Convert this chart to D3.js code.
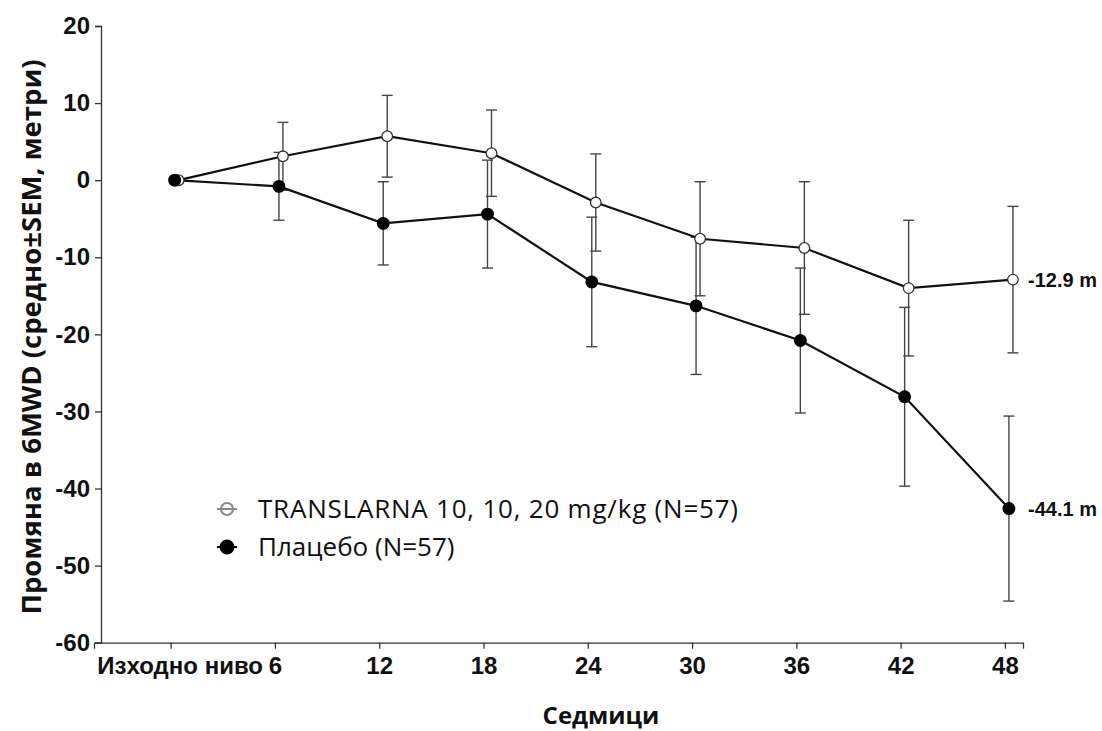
<!DOCTYPE html>
<html>
<head>
<meta charset="utf-8">
<script src="https://cdn.jsdelivr.net/npm/d3@7"></script>
<style>
  body { margin: 0; background: #fff; }
  svg { display: block; }
</style>
</head>
<body>
<div id="chart-area"></div>
<script>
// weeks and tick labels
var weeks = [0, 6, 12, 18, 24, 30, 36, 42, 48];
var tickLabels = ["Изходно ниво", "6", "12", "18", "24", "30", "36", "42", "48"];
var yTicks = [20, 10, 0, -10, -20, -30, -40, -50, -60];

// TRANSLARNA 10, 10, 20 mg/kg (open circles)
var translarnaMean = [0, 3.1, 5.7, 3.5, -2.9, -7.6, -8.8, -14.0, -12.9];
var translarnaSem  = [0, 4.4, 5.3, 5.6, 6.3, 7.4, 8.6, 8.8, 9.5];

// Placebo (filled circles)
var placeboMean = [0, -0.8, -5.6, -4.4, -13.2, -16.3, -20.8, -28.1, -42.6];
var placeboSem  = [0, 4.4, 5.4, 7.0, 8.4, 8.9, 9.4, 11.6, 12.0];

var endLabels = ["-12.9 m", "-44.1 m"];
var legendLabels = ["TRANSLARNA 10, 10, 20 mg/kg (N=57)", "Плацебо (N=57)"];

var width = 1102;
var height = 731;

var svg = d3.select("#chart-area").append("svg")
    .attr("width", width)
    .attr("height", height);

var x = d3.scaleLinear()
    .domain([-4.41, 49.04])
    .range([94, 1023]);

var y = d3.scaleLinear()
    .domain([-60, 20])
    .range([642.7, 26]);

// x axis
var bottomAxis = d3.axisBottom(x)
    .tickValues(weeks)
    .tickSizeOuter(0)
    .tickSize(6)
    .tickPadding(8)
    .tickFormat((d, i) => tickLabels[i]);
var gx = svg.append("g")
    .attr("class", "bottom axis")
    .attr("transform", "translate(0," + y(-60) + ")")
    .call(bottomAxis);
gx.selectAll("text")
    .attr("font-family", "'Liberation Sans', Arial, sans-serif")
    .attr("font-weight", "bold")
    .attr("font-size", "24px")
    .attr("fill", "#111")
    .attr("dx", (d, i) => i === 0 ? 9 : 0);

// y axis
var leftAxis = d3.axisLeft(y)
    .tickValues(yTicks)
    .tickSizeOuter(0)
    .tickSize(6)
    .tickPadding(5)
    .tickFormat((d) => String(d));
var gy = svg.append("g")
    .attr("class", "left axis")
    .attr("transform", "translate(" + 101 + ",0)")
    .call(leftAxis);
gy.selectAll("text")
    .attr("font-family", "'Liberation Sans', Arial, sans-serif")
    .attr("font-weight", "bold")
    .attr("font-size", "24px")
    .attr("fill", "#111");

svg.selectAll(".axis path, .axis line")
    .attr("stroke", "#333")
    .attr("stroke-width", 1.3);

// axis labels
svg.append("text")
    .attr("x", 601)
    .attr("y", 724)
    .attr("text-anchor", "middle")
    .attr("font-family", "'Open Sans', sans-serif")
    .attr("font-weight", "bold")
    .attr("font-size", "24px")
    .attr("fill", "#111")
    .text("Седмици");

svg.append("text")
    .attr("transform", "translate(41," + 337 + ") rotate(-90)")
    .attr("text-anchor", "middle")
    .attr("font-family", "'Open Sans', sans-serif")
    .attr("font-weight", "bold")
    .attr("font-size", "27px")
    .attr("textLength", 555)
    .attr("lengthAdjust", "spacingAndGlyphs")
    .attr("fill", "#111")
    .text("Промяна в 6MWD (средно±SEM, метри)");

// series table
var series = [
    { name: "translarna", mean: translarnaMean, sem: translarnaSem, dx: 8, open: true },
    { name: "placebo", mean: placeboMean, sem: placeboSem, dx: 4, open: false }
];

var g = svg.append("g");

series.forEach((s) => {
    var pts = weeks.map((w, i) => ({ w: w, m: s.mean[i], e: s.sem[i] }));
    var bars = g.append("g").attr("class", "err " + s.name);
    pts.filter((d) => d.e > 0).forEach((d) => {
        var cx = x(d.w) + s.dx;
        bars.append("line")
            .attr("x1", cx).attr("x2", cx)
            .attr("y1", y(d.m + d.e)).attr("y2", y(d.m - d.e));
        [d.m + d.e, d.m - d.e].forEach((v) => {
            bars.append("line")
                .attr("x1", cx - 5.5).attr("x2", cx + 5.5)
                .attr("y1", y(v)).attr("y2", y(v));
        });
    });
    bars.selectAll("line")
        .attr("stroke", "#444")
        .attr("stroke-width", 1.4);
});

series.forEach((s) => {
    var pts = weeks.map((w, i) => ({ w: w, m: s.mean[i] }));
    var line = d3.line()
        .x((d) => x(d.w) + s.dx)
        .y((d) => y(d.m));
    g.append("path")
        .datum(pts)
        .attr("d", line)
        .attr("fill", "none")
        .attr("stroke", "#111")
        .attr("stroke-width", 2.2);
});

// markers: open circles first, filled placebo circles on top
series.forEach((s) => {
    var pts = weeks.map((w, i) => ({ w: w, m: s.mean[i] }));
    g.selectAll("circle." + s.name)
        .data(pts)
        .enter()
        .append("circle")
        .attr("class", s.name)
        .attr("cx", (d) => x(d.w) + s.dx)
        .attr("cy", (d) => y(d.m))
        .attr("r", s.open ? 5.3 : 5.8)
        .attr("fill", s.open ? "#fff" : "#000")
        .attr("stroke", s.open ? "#333" : "#000")
        .attr("stroke-width", 1.3);
});

// end labels
series.forEach((s, i) => {
    var last = s.mean.length - 1;
    svg.append("text")
        .attr("x", 1028)
        .attr("y", y(s.mean[last]))
        .attr("dy", "0.36em")
        .attr("font-family", "'Liberation Sans', Arial, sans-serif")
        .attr("font-weight", "bold")
        .attr("font-size", "20px")
        .attr("fill", "#111")
        .text(endLabels[i]);
});

// legend
var legend = svg.append("g").attr("class", "legend");
var legendY = [509, 547];
var legendWidths = [480, null];
series.forEach((s, i) => {
    var ly = legendY[i];
    legend.append("line")
        .attr("x1", 217).attr("x2", 237)
        .attr("y1", ly).attr("y2", ly)
        .attr("stroke", s.open ? "#888" : "#000")
        .attr("stroke-width", 2);
    legend.append("circle")
        .attr("cx", 227).attr("cy", ly)
        .attr("r", s.open ? 6 : 6.5)
        .attr("fill", s.open ? "none" : "#000")
        .attr("stroke", s.open ? "#888" : "#000")
        .attr("stroke-width", 2);
    var t = legend.append("text")
        .attr("x", 258)
        .attr("y", ly)
        .attr("dy", "0.36em")
        .attr("font-family", "'Open Sans', sans-serif")
        .attr("font-size", "26px")
        .attr("fill", "#111")
        .text(legendLabels[i]);
    if (legendWidths[i]) t.attr("textLength", legendWidths[i]);
});
</script>
</body>
</html>
